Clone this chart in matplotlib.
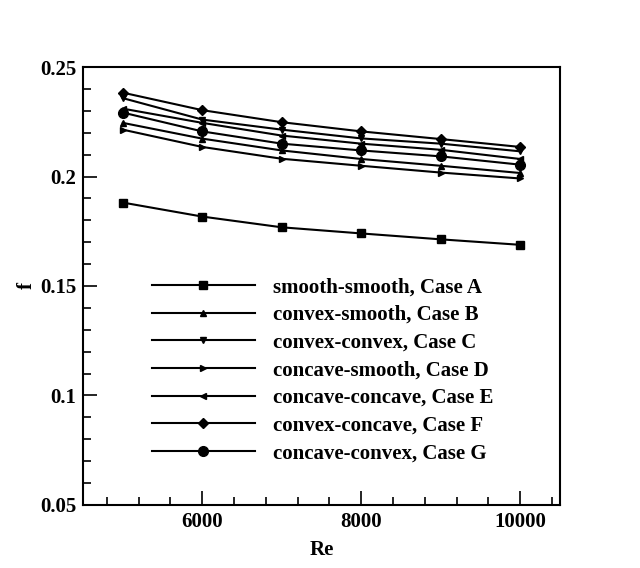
import matplotlib.pyplot as plt
from matplotlib.ticker import AutoMinorLocator, FixedLocator

plt.rcParams['font.family'] = ['Liberation Serif', 'DejaVu Serif']
plt.rcParams['font.weight'] = 'bold'

re = [5000, 6000, 7000, 8000, 9000, 10000]

case_a = [0.1881, 0.1817, 0.1768, 0.1740, 0.1713, 0.1688]
case_b = [0.2245, 0.2173, 0.2119, 0.2080, 0.2049, 0.2016]
case_c = [0.2358, 0.2260, 0.2214, 0.2174, 0.2150, 0.2115]
case_d = [0.2214, 0.2135, 0.2081, 0.2049, 0.2018, 0.1991]
case_e = [0.2310, 0.2245, 0.2187, 0.2150, 0.2122, 0.2080]
case_f = [0.2383, 0.2303, 0.2248, 0.2206, 0.2171, 0.2135]
case_g = [0.2292, 0.2206, 0.2150, 0.2119, 0.2092, 0.2054]

labels = ['smooth-smooth, Case A', 'convex-smooth, Case B', 'convex-convex, Case C',
          'concave-smooth, Case D', 'concave-concave, Case E', 'convex-concave, Case F',
          'concave-convex, Case G']

fig = plt.figure(figsize=(6.4, 5.68), dpi=100)
ax = fig.add_axes([0.1297, 0.111, 0.7453, 0.771])

ax.plot(re, case_a, color='black', lw=1.5, marker='s', ms=6, label=labels[0])
ax.plot(re, case_b, color='black', lw=1.5, marker='^', ms=5, label=labels[1])
ax.plot(re, case_c, color='black', lw=1.5, marker='v', ms=5, label=labels[2])
ax.plot(re, case_d, color='black', lw=1.5, marker='>', ms=5, label=labels[3])
ax.plot(re, case_e, color='black', lw=1.5, marker='<', ms=5, label=labels[4])
ax.plot(re, case_f, color='black', lw=1.5, marker='D', ms=5, label=labels[5])
ax.plot(re, case_g, color='black', lw=1.5, marker='o', ms=7, label=labels[6])

ax.set_xlim(4500, 10500)
ax.set_ylim(0.05, 0.25)
ax.xaxis.set_major_locator(FixedLocator([6000, 8000, 10000]))
ax.xaxis.set_minor_locator(AutoMinorLocator(5))
ax.set_yticks([0.05, 0.1, 0.15, 0.2, 0.25])
ax.set_yticklabels(['0.05', '0.1', '0.15', '0.2', '0.25'])
ax.yaxis.set_minor_locator(AutoMinorLocator(5))
ax.tick_params(which='both', direction='in', top=False, right=False, width=1.2)
ax.tick_params(which='major', length=10, labelsize=15, pad=5)
ax.tick_params(which='minor', length=6)
for sp in ax.spines.values():
    sp.set_linewidth(1.5)

ax.set_xlabel('Re', fontsize=15, fontweight='bold', labelpad=6)
ax.set_ylabel('f', fontsize=15, fontweight='bold', labelpad=2)

ax.legend(loc='upper left', bbox_to_anchor=(0.105, 0.563), frameon=False,
          handlelength=4.95, handletextpad=0.87, labelspacing=0.37,
          prop={'weight': 'bold', 'size': 15})

fig.savefig('out.png', dpi=100)
